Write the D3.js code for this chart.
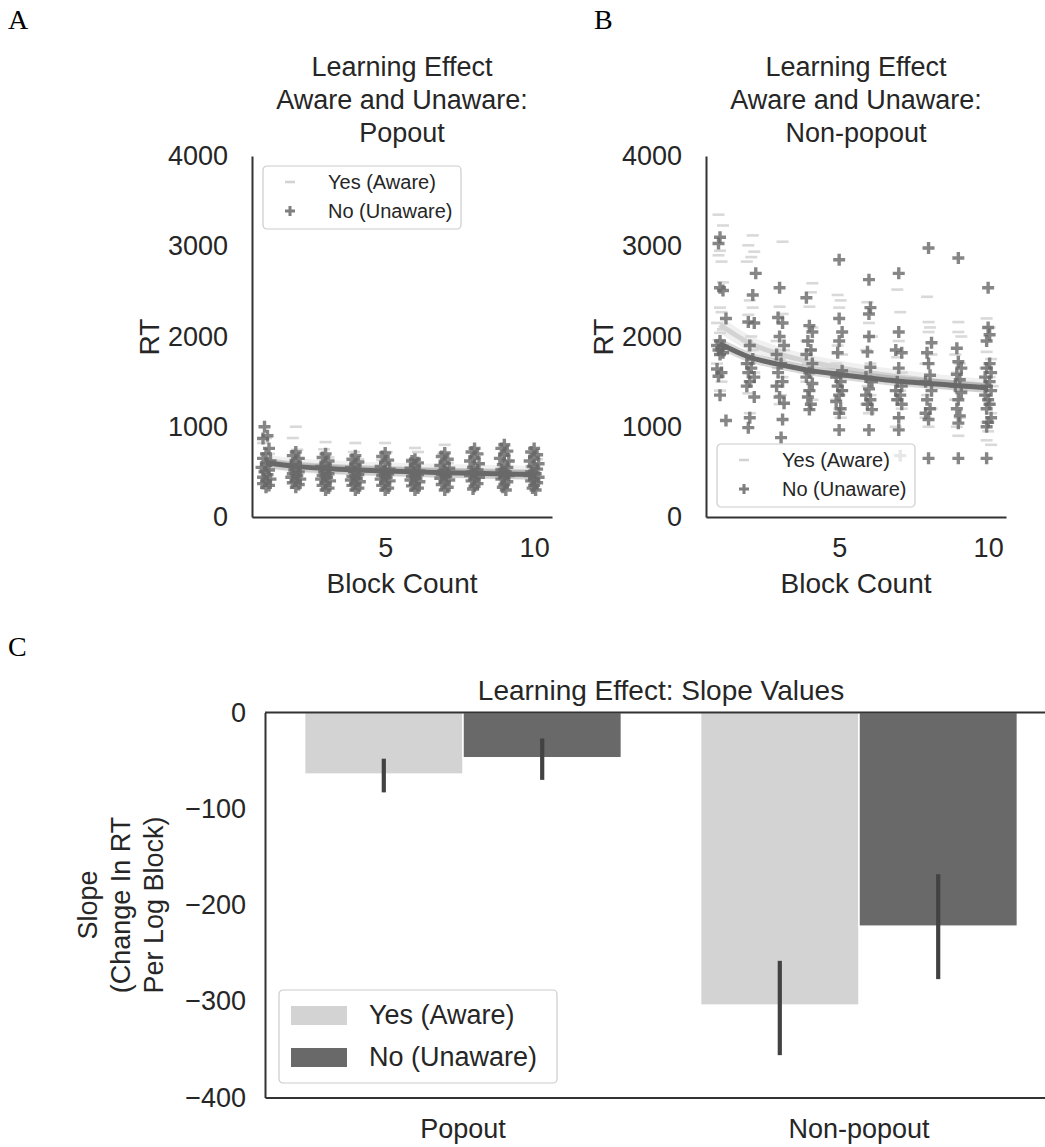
<!DOCTYPE html>
<html>
<head>
<meta charset="utf-8">
<script src="https://cdn.jsdelivr.net/npm/d3@7"></script>
<style>
  body { margin: 0; background: #fff; }
  text { font-family: "Liberation Sans", Arial, sans-serif; fill: #262626; }
  .panel-letter { font-family: "Liberation Serif", "Times New Roman", serif; fill: #000; }
</style>
</head>
<body>
<svg id="fig" width="1045" height="1147"></svg>
<script>
// ---- data ----
const blocks = [1, 2, 3, 4, 5, 6, 7, 8, 9, 10];
const rtTicks = [0, 1000, 2000, 3000, 4000];
const blockTicks = [5, 10];
const groups = ["Yes (Aware)", "No (Unaware)"];

// panel A, popout: [block (jittered), RT]
const popoutYes = [
  [1.0,875],[0.9,820],[1.1,700],[1.0,600],[0.95,520],
  [2.0,1000],[1.9,875],[2.05,745],[2.1,650],[1.95,560],
  [3.0,830],[2.95,750],[3.1,660],[2.9,560],
  [4.0,820],[3.95,720],[4.1,640],[3.9,540],
  [5.0,820],[5.05,720],[4.9,630],[5.1,540],
  [6.0,765],[6.1,720],[5.9,640],[6.0,540],
  [7.0,800],[6.95,700],[7.1,600],
  [8.0,640],[8.1,590],[7.9,520],
  [9.0,680],[9.1,620],[8.9,540],
  [10.0,700],[10.1,640],[9.9,560],[10.05,480]
];
const popoutNo = [
  [0.95,1000],[1.05,900],[0.9,870],[1.1,760],[1.0,700],[0.9,650],[1.15,620],[1.0,580],[0.85,550],[1.1,520],[0.95,500],[1.05,470],[0.9,440],[1.15,420],[1.0,400],[0.9,370],[1.1,350],[1.0,330],
  [2.0,720],[1.9,680],[2.1,650],[2.0,610],[1.85,580],[2.15,550],[1.95,520],[2.1,500],[1.9,480],[2.05,460],[1.85,440],[2.15,420],[2.0,400],[1.9,380],[2.1,360],[2.0,330],
  [3.0,700],[2.9,660],[3.1,620],[3.0,590],[2.85,560],[3.15,530],[2.95,500],[3.1,480],[2.9,460],[3.05,440],[2.85,420],[3.15,400],[3.0,380],[2.9,350],[3.1,320],[3.0,300],
  [4.0,680],[3.9,640],[4.1,610],[4.0,580],[3.85,550],[4.15,520],[3.95,500],[4.1,470],[3.9,450],[4.05,430],[3.85,410],[4.15,390],[4.0,370],[3.9,350],[4.1,320],[4.0,300],
  [5.0,710],[4.9,670],[5.1,630],[5.0,600],[4.85,560],[5.15,530],[4.95,500],[5.1,480],[4.9,460],[5.05,440],[4.85,420],[5.15,400],[5.0,380],[4.9,350],[5.1,320],[5.0,300],
  [6.0,640],[5.9,620],[6.1,600],[6.0,570],[5.85,540],[6.15,510],[5.95,490],[6.1,470],[5.9,450],[6.05,430],[5.85,410],[6.15,390],[6.0,370],[5.9,345],[6.1,320],[6.0,300],
  [7.0,710],[6.9,670],[7.1,640],[7.0,600],[6.85,570],[7.15,540],[6.95,510],[7.1,490],[6.9,470],[7.05,450],[6.85,430],[7.15,410],[7.0,390],[6.9,360],[7.1,330],[7.0,300],
  [8.0,760],[7.9,720],[8.1,700],[8.0,660],[7.85,620],[8.15,590],[7.95,550],[8.1,520],[7.9,500],[8.05,480],[7.85,460],[8.15,440],[8.0,420],[7.9,400],[8.1,370],[8.0,340],[7.95,310],
  [9.0,800],[8.9,760],[9.1,730],[9.0,690],[8.85,650],[9.15,620],[8.95,580],[9.1,550],[8.9,520],[9.05,500],[8.85,480],[9.15,460],[9.0,440],[8.9,420],[9.1,390],[9.0,360],[8.95,330],[9.05,300],
  [10.0,760],[9.9,720],[10.1,690],[10.0,660],[9.85,620],[10.15,590],[9.95,560],[10.1,530],[9.9,500],[10.05,480],[9.85,460],[10.15,440],[10.0,420],[9.9,400],[10.1,380],[10.0,350],[9.95,320],[10.05,300]
];

// panel B, non-popout
const nonpopYes = [
  [0.95,3350],[1.1,3230],[1.0,2950],[0.95,2900],[1.05,2830],[1.1,2600],[1.0,2320],[1.05,2270],[0.9,2150],[1.1,2080],[1.0,2040],[0.95,1960],[1.1,1900],[1.0,1800],[0.9,1700],[1.05,1500],[1.0,1400],
  [2.1,3120],[1.95,3010],[2.15,2940],[2.05,2880],[1.9,2830],[2.0,2400],[2.1,2320],[1.95,2240],[2.05,2000],[1.9,1950],[2.1,1850],[2.0,1700],[2.15,1600],[1.95,1370],[2.0,1150],
  [3.1,3050],[3.0,2330],[3.1,2250],[2.9,1950],[3.15,1850],[3.0,1750],[2.95,1650],[3.1,1550],[2.9,1450],[3.05,1350],[3.0,1250],
  [4.1,2590],[4.05,2490],[4.0,2330],[4.1,2100],[3.9,1950],[4.05,1850],[3.95,1700],[4.1,1600],[3.9,1500],[4.0,1400],[4.1,1300],
  [4.95,2460],[5.05,2400],[5.0,2320],[4.95,1900],[5.1,1800],[4.9,1700],[5.05,1550],[5.1,1400],[4.9,1300],[5.0,1200],[5.05,1100],
  [5.95,2380],[6.0,2150],[6.1,2000],[5.9,1850],[6.05,1700],[6.1,1600],[5.95,1450],[6.05,1350],[5.9,1250],[6.0,1150],
  [6.95,2520],[7.05,2270],[7.0,1950],[6.95,1770],[7.1,1600],[6.9,1500],[7.05,1400],[6.95,1300],[7.1,1200],[7.0,1100],[6.9,1000],
  [7.95,2440],[8.0,2160],[8.05,2100],[8.0,2050],[8.1,1800],[7.9,1700],[8.05,1500],[7.95,1350],[8.1,1200],[7.9,1100],[8.0,1000],
  [9.0,2160],[9.0,2050],[9.1,2000],[8.9,1800],[9.05,1700],[8.95,1600],[9.1,1400],[8.9,1300],[9.05,1100],[8.95,1000],[9.0,900],
  [9.95,2200],[10.05,2100],[9.95,1830],[10.1,1750],[9.9,1650],[10.05,1550],[10.15,1450],[9.9,1350],[10.05,1250],[10.1,1150],[9.95,1050],[10.0,950],[9.95,850],[10.1,800]
];
const nonpopNo = [
  [1.0,3100],[0.95,3030],[1.0,2540],[1.1,2510],[1.2,2200],[1.0,1950],[0.9,1900],[1.05,1870],[0.95,1850],[1.1,1820],[1.0,1800],[0.9,1640],[1.05,1600],[0.95,1560],[1.0,1350],[1.2,1070],
  [2.2,2700],[2.1,2460],[1.95,2160],[2.15,2150],[2.0,1900],[2.1,1750],[1.9,1700],[2.05,1650],[1.95,1600],[2.15,1550],[2.0,1500],[1.9,1450],[2.15,1330],[2.0,1100],[1.95,990],
  [3.0,2540],[2.95,2210],[3.1,2150],[3.0,2000],[3.15,1900],[2.9,1800],[3.05,1700],[2.95,1600],[3.1,1500],[2.9,1450],[3.0,1330],[3.15,1260],[3.1,1080],[3.05,880],
  [3.9,2430],[4.0,2120],[4.1,2050],[3.95,1950],[4.05,1850],[3.9,1800],[4.1,1700],[4.0,1600],[3.9,1550],[4.1,1480],[4.0,1400],[3.95,1330],[4.05,1250],[4.0,1190],
  [5.0,2850],[5.0,2200],[5.1,2050],[5.0,1950],[4.95,1820],[5.1,1620],[4.9,1550],[5.05,1500],[4.95,1450],[5.1,1400],[5.0,1350],[4.9,1280],[5.05,1200],[5.0,1150],[5.0,965],
  [6.0,2630],[6.05,2320],[6.0,2250],[6.0,2000],[5.95,1830],[6.05,1660],[5.9,1550],[6.1,1500],[6.0,1420],[5.9,1350],[6.05,1300],[5.95,1250],[6.1,1190],[6.0,965],
  [7.0,2700],[7.0,2050],[6.9,1850],[7.1,1820],[7.0,1650],[6.95,1500],[7.1,1450],[6.9,1400],[7.05,1350],[6.95,1300],[7.1,1250],[7.0,1100],[7.0,965],[7.05,680],
  [8.0,2980],[8.1,1930],[7.95,1820],[8.0,1700],[8.05,1570],[7.9,1500],[8.1,1400],[7.95,1300],[8.05,1200],[7.9,1150],[8.0,1080],[8.0,650],
  [9.0,2870],[8.95,1870],[9.0,1720],[9.1,1650],[8.95,1580],[9.05,1520],[8.9,1450],[9.1,1380],[9.0,1300],[8.95,1200],[9.05,1120],[9.0,1040],[9.0,650],
  [10.0,2540],[10.0,2100],[10.05,2020],[9.95,1950],[10.05,1700],[9.95,1650],[10.1,1600],[9.9,1550],[10.05,1500],[9.95,1450],[10.1,1400],[9.9,1350],[10.0,1300],[10.05,1250],[9.95,1200],[10.1,1100],[10.0,1050],[9.95,1000],[9.95,650]
];

// fitted (log) curves, RT per block
const popoutFitYes = [610, 574, 553, 538, 526, 517, 509, 502, 496, 490];
const popoutFitNo  = [600, 561, 538, 522, 510, 500, 491, 484, 477, 471];
const nonpopFitYes = [2130, 1925, 1805, 1720, 1655, 1600, 1555, 1515, 1480, 1450];
const nonpopFitNo  = [1920, 1770, 1690, 1625, 1580, 1540, 1505, 1480, 1455, 1430];

// panel C, slopes
const slopeCategories = ["Popout", "Non-popout"];
const slopeYes = [-64, -304];
const slopeNo = [-47, -222];
const slopeYesCI = [[-48, -83], [-258, -356]];
const slopeNoCI = [[-27, -70], [-168, -277]];
const slopeTicks = [0, -100, -200, -300, -400];

// ---- drawing ----
const light = "#d3d3d3", dark = "#696969", ink = "#262626";
const svg = d3.select("#fig");

svg.append("text").attr("class", "panel-letter").attr("x", 8).attr("y", 29).attr("font-size", 28).text("A");
svg.append("text").attr("class", "panel-letter").attr("x", 594).attr("y", 29).attr("font-size", 28).text("B");
svg.append("text").attr("class", "panel-letter").attr("x", 8).attr("y", 656).attr("font-size", 28).text("C");

function plusPath(cx, cy, r) {
    return "M" + (cx - r) + "," + cy + "h" + (2 * r) + "M" + cx + "," + (cy - r) + "v" + (2 * r);
}
function dashPath(cx, cy, r) {
    return "M" + (cx - r) + "," + cy + "h" + (2 * r);
}

function drawScatterPanel(cfg) {
    const g = svg.append("g");
    const x = d3.scaleLinear().domain([0.53, 10.6]).range([cfg.left, cfg.left + 300]);
    const y = d3.scaleLinear().domain([0, 4000]).range([517, 156]);

    // title
    const title = g.append("text")
        .attr("text-anchor", "middle")
        .attr("font-size", 27);
    cfg.title.forEach(function (line, i) {
        title.append("tspan").attr("x", cfg.left + 150).attr("y", 76 + i * 33).text(line);
    });

    // aware group: dashes + fit
    g.append("g").selectAll("path")
        .data(cfg.yes).enter().append("path")
        .attr("d", d => dashPath(x(d[0]), y(d[1]), 6))
        .attr("stroke", light).attr("stroke-width", 2.6).attr("opacity", 0.85);

    const line = d3.line()
        .x((d, i) => x(blocks[i]))
        .y(d => y(d))
        .curve(d3.curveMonotoneX);

    g.append("path").attr("d", line(cfg.fitYes))
        .attr("fill", "none").attr("stroke", light).attr("stroke-width", 14).attr("opacity", 0.35);
    g.append("path").attr("d", line(cfg.fitYes))
        .attr("fill", "none").attr("stroke", light).attr("stroke-width", 5);

    // unaware group: plus markers + fit
    g.append("g").selectAll("path")
        .data(cfg.no).enter().append("path")
        .attr("d", d => plusPath(x(d[0]), y(d[1]), 6))
        .attr("stroke", dark).attr("stroke-width", 3.4).attr("opacity", 0.8);

    g.append("path").attr("d", line(cfg.fitNo))
        .attr("fill", "none").attr("stroke", dark).attr("stroke-width", 10).attr("opacity", 0.25);
    g.append("path").attr("d", line(cfg.fitNo))
        .attr("fill", "none").attr("stroke", dark).attr("stroke-width", 5);

    // axes (left and bottom spines only)
    const yAxis = g.append("g")
        .attr("transform", "translate(" + cfg.left + ",0)")
        .call(d3.axisLeft(y).tickValues(rtTicks).tickSize(0).tickPadding(24).tickFormat(d3.format("d")));
    const xAxis = g.append("g")
        .attr("transform", "translate(0,517)")
        .call(d3.axisBottom(x).tickValues(blockTicks).tickSize(0).tickPadding(21).tickFormat(d3.format("d")));
    [yAxis, xAxis].forEach(function (a) {
        a.attr("font-size", 27).attr("font-family", null);
        a.select(".domain").attr("stroke", "#333").attr("stroke-width", 2);
        a.selectAll("text").attr("fill", ink);
    });

    g.append("text")
        .attr("transform", "translate(" + (cfg.left - 93) + ",337) rotate(-90)")
        .attr("text-anchor", "middle")
        .attr("font-size", 28)
        .text("RT");
    g.append("text")
        .attr("x", cfg.left + 150).attr("y", 593)
        .attr("text-anchor", "middle")
        .attr("font-size", 28)
        .text("Block Count");

    // legend
    const lg = g.append("g").attr("transform", "translate(" + cfg.legend[0] + "," + cfg.legend[1] + ")");
    lg.append("rect")
        .attr("width", 198).attr("height", 63).attr("rx", 4)
        .attr("fill", "#fff").attr("fill-opacity", 0.8)
        .attr("stroke", "#cccccc").attr("stroke-width", 1.2);
    lg.append("path").attr("d", dashPath(27, 16, 5)).attr("stroke", light).attr("stroke-width", 2.6);
    lg.append("path").attr("d", plusPath(27, 45, 5)).attr("stroke", dark).attr("stroke-width", 3).attr("opacity", 0.85);
    groups.forEach(function (name, i) {
        lg.append("text")
            .attr("x", 65).attr("y", 16 + i * 29)
            .attr("dy", "0.35em")
            .attr("font-size", 20)
            .text(name);
    });
}

drawScatterPanel({
    left: 252,
    title: ["Learning Effect", "Aware and Unaware:", "Popout"],
    yes: popoutYes, no: popoutNo,
    fitYes: popoutFitYes, fitNo: popoutFitNo,
    legend: [263, 166]
});
drawScatterPanel({
    left: 706,
    title: ["Learning Effect", "Aware and Unaware:", "Non-popout"],
    yes: nonpopYes, no: nonpopNo,
    fitYes: nonpopFitYes, fitNo: nonpopFitNo,
    legend: [717, 444]
});

// ---- panel C: slope bars ----
const gc = svg.append("g");
const x0 = d3.scaleBand().domain(slopeCategories).range([265, 1057]).paddingInner(0.2).paddingOuter(0.1);
const x1 = d3.scaleBand().domain(groups).range([0, x0.bandwidth()]);
const yc = d3.scaleLinear().domain([slopeTicks[slopeTicks.length - 1], slopeTicks[0]]).range([1097.5, 712.5]);

const barRows = [];
slopeCategories.forEach(function (c, i) {
    barRows.push({cat: c, grp: groups[0], v: slopeYes[i], ci: slopeYesCI[i], color: light});
    barRows.push({cat: c, grp: groups[1], v: slopeNo[i], ci: slopeNoCI[i], color: dark});
});

gc.selectAll("rect.bar")
    .data(barRows).enter().append("rect")
    .attr("class", "bar")
    .attr("x", d => x0(d.cat) + x1(d.grp))
    .attr("width", x1.bandwidth())
    .attr("y", yc(0))
    .attr("height", d => yc(d.v) - yc(0))
    .attr("fill", d => d.color)
    .attr("stroke", "#fff").attr("stroke-width", 1.5);

gc.selectAll("line.err")
    .data(barRows).enter().append("line")
    .attr("class", "err")
    .attr("x1", d => x0(d.cat) + x1(d.grp) + x1.bandwidth() / 2)
    .attr("x2", d => x0(d.cat) + x1(d.grp) + x1.bandwidth() / 2)
    .attr("y1", d => yc(d.ci[0]))
    .attr("y2", d => yc(d.ci[1]))
    .attr("stroke", "#424242").attr("stroke-width", 4.2);

const ycAxis = gc.append("g")
    .attr("transform", "translate(265,0)")
    .call(d3.axisLeft(yc).tickValues(slopeTicks).tickSize(0).tickPadding(19));
const xcAxis = gc.append("g")
    .attr("transform", "translate(0,1097.5)")
    .call(d3.axisBottom(x0).tickSize(0).tickPadding(21));
[ycAxis, xcAxis].forEach(function (a) {
    a.attr("font-size", 27).attr("font-family", null);
    a.select(".domain").attr("stroke", "#333").attr("stroke-width", 2);
    a.selectAll("text").attr("fill", ink);
});
// top and right spines
gc.append("path")
    .attr("d", "M265," + yc(0) + "H1057V" + yc(-400))
    .attr("fill", "none").attr("stroke", "#333").attr("stroke-width", 2);

gc.append("text")
    .attr("x", 661).attr("y", 700)
    .attr("text-anchor", "middle")
    .attr("font-size", 28)
    .text("Learning Effect: Slope Values");

const ylab = gc.append("text")
    .attr("transform", "translate(0,905) rotate(-90)")
    .attr("text-anchor", "middle")
    .attr("font-size", 27);
["Slope", "(Change In RT", "Per Log Block)"].forEach(function (line, i) {
    ylab.append("tspan").attr("x", 0).attr("y", 97 + i * 33).text(line);
});

const lc = gc.append("g").attr("transform", "translate(279,990)");
lc.append("rect")
    .attr("width", 278).attr("height", 93).attr("rx", 4)
    .attr("fill", "#fff").attr("fill-opacity", 0.8)
    .attr("stroke", "#cccccc").attr("stroke-width", 1.2);
groups.forEach(function (name, i) {
    lc.append("rect")
        .attr("x", 12).attr("y", 16 + i * 42)
        .attr("width", 56).attr("height", 19)
        .attr("fill", i === 0 ? light : dark);
    lc.append("text")
        .attr("x", 90).attr("y", 25 + i * 42)
        .attr("dy", "0.35em")
        .attr("font-size", 27)
        .text(name);
});
</script>
</body>
</html>
